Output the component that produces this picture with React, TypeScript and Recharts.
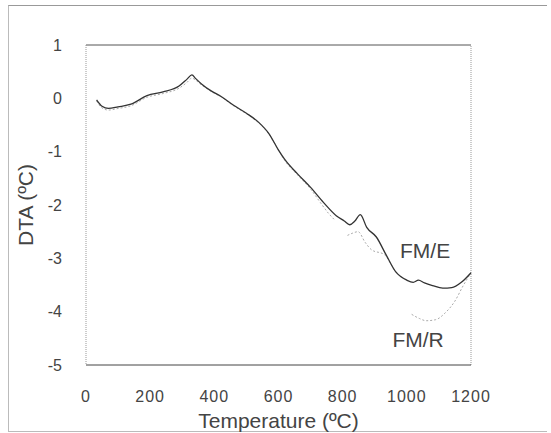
import { LineChart, Line, XAxis, YAxis, ReferenceLine, ReferenceDot } from "recharts";

// FM/E curve (dark solid)
const feTemp = [33, 50, 70, 100, 140, 190, 240, 290, 315, 330, 342, 360, 390, 420, 460, 500, 540, 570, 600, 620, 660, 700, 740, 780, 805, 822, 838, 855, 875, 905, 935, 965, 1000, 1020, 1036, 1055, 1080, 1112, 1140, 1170, 1200];
const feDta = [-0.03, -0.15, -0.19, -0.16, -0.11, 0.05, 0.12, 0.23, 0.36, 0.44, 0.37, 0.27, 0.14, 0.04, -0.13, -0.28, -0.46, -0.66, -0.97, -1.15, -1.42, -1.67, -1.95, -2.2, -2.3, -2.37, -2.3, -2.18, -2.42, -2.6, -2.93, -3.25, -3.41, -3.45, -3.41, -3.46, -3.51, -3.56, -3.55, -3.45, -3.27];

// FM/R curve (faint dotted), gaps where the scan loses it
const frTemp = [33, 50, 70, 100, 140, 190, 240, 290, 315, 330, 342, 360, 390, 420, 460, 500, 540, 570, 600, 620, 660, 700, 730, 755, 775, 795, 815, 830, 848, 870, 890, 930, 965, 1000, 1008, 1015, 1040, 1060, 1090, 1120, 1150, 1175, 1200];
const frDta = [-0.05, -0.18, -0.22, -0.19, -0.14, 0.02, 0.09, 0.19, 0.3, 0.38, 0.34, 0.25, 0.13, 0.03, -0.14, -0.29, -0.47, -0.67, -0.97, -1.17, -1.44, -1.7, -1.95, -2.15, -2.28, null, -2.57, -2.53, -2.5, -2.7, -2.84, -2.93, -3.25, -3.41, null, -4.05, -4.13, -4.17, -4.15, -4.02, -3.8, -3.52, -3.27];

const xTicks = [0, 200, 400, 600, 800, 1000, 1200];
const yTicks = [-5, -4, -3, -2, -1, 0, 1];

const feData = feTemp.map((t, i) => ({ t, v: feDta[i] }));
const frData = frTemp.map((t, i) => ({ t, v: frDta[i] }));

const font = "'Liberation Sans', Arial, sans-serif";

export default function App() {
  return (
    <div style={{ position: "absolute", left: 0, top: 0, width: 551, height: 433, background: "#fff", fontFamily: font }}>
      <div
        style={{
          position: "absolute",
          left: 8,
          top: 5,
          width: 538,
          height: 425,
          borderTop: "1px solid #999",
          borderLeft: "1px solid #bbb",
          borderBottom: "1px solid #bbb",
        }}
      />
      <LineChart
        width={551}
        height={433}
        margin={{ top: 45, right: 80, left: 26, bottom: 8 }}
        style={{ position: "absolute", left: 0, top: 0 }}
      >
        <XAxis
          dataKey="t"
          type="number"
          domain={[0, 1200]}
          ticks={xTicks}
          allowDuplicatedCategory={false}
          height={60}
          tickLine={false}
          tickSize={0}
          tickMargin={26}
          axisLine={{ stroke: "#444" }}
          tick={{ fontSize: 16, fill: "#444", fontFamily: font, letterSpacing: 1 }}
          label={{ value: "Temperature (ºC)", position: "insideBottom", offset: -3, fontSize: 21, fill: "#444", fontFamily: font }}
        />
        <YAxis
          type="number"
          domain={[-5, 1]}
          ticks={yTicks}
          width={60}
          tickLine={false}
          tickSize={0}
          tickMargin={24}
          axisLine={{ stroke: "#999", strokeDasharray: "1 1" }}
          tick={{ fontSize: 16, fill: "#444", fontFamily: font }}
          label={{ value: "DTA (ºC)", angle: -90, position: "insideLeft", offset: 0, fontSize: 21, fill: "#444", fontFamily: font, style: { textAnchor: "middle" } }}
        />
        <ReferenceLine y={1} stroke="#555" />
        <ReferenceLine x={1200} stroke="#999" strokeDasharray="1 1" />
        <Line
          data={frData}
          dataKey="v"
          type="monotone"
          stroke="#aaa"
          strokeWidth={1}
          strokeDasharray="2 2"
          dot={false}
          connectNulls={false}
          isAnimationActive={false}
        />
        <Line
          data={feData}
          dataKey="v"
          type="monotone"
          stroke="#333"
          strokeWidth={1.3}
          dot={false}
          isAnimationActive={false}
        />
        <ReferenceDot
          x={1057}
          y={-2.86}
          r={0}
          stroke="none"
          label={{ value: "FM/E", position: "center", fontSize: 21, fill: "#444", fontFamily: font }}
        />
        <ReferenceDot
          x={1035}
          y={-4.53}
          r={0}
          stroke="none"
          label={{ value: "FM/R", position: "center", fontSize: 21, fill: "#444", fontFamily: font }}
        />
      </LineChart>
    </div>
  );
}
